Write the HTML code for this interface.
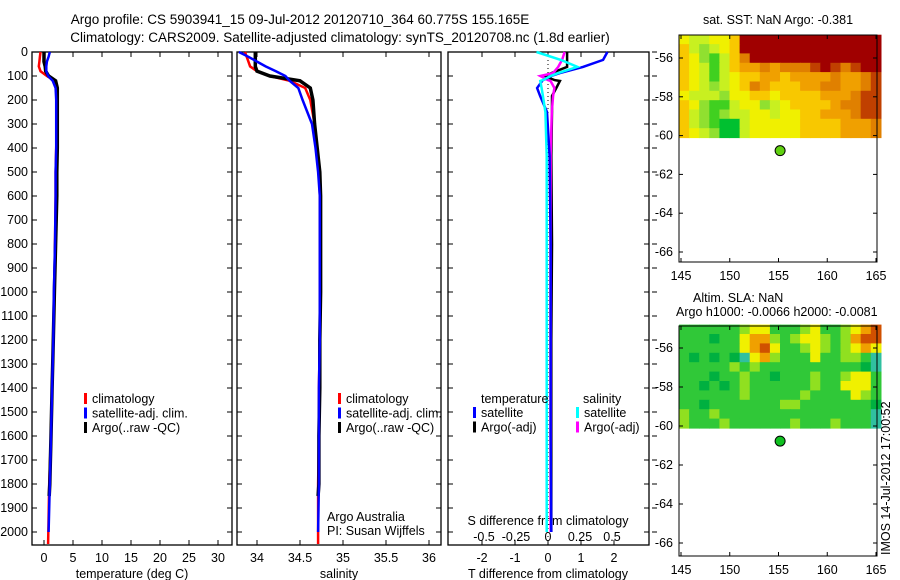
<!DOCTYPE html>
<html><head><meta charset="utf-8"><style>
html,body{margin:0;padding:0;background:#fff;}
svg{display:block;font-family:"Liberation Sans",sans-serif;}
text{font-size:12.5px;fill:#000;}
.ttl{font-size:13.5px;}
</style></head><body>
<svg id="fig" width="900" height="580"></svg>
<script>
// ---------- data ----------
const depths=[0,20,40,60,80,100,120,150,200,300,400,500,600,800,1000,1200,1400,1600,1800,2000];
const tempArgo=[0.0,0.0,0.0,0.2,0.3,0.8,2.0,2.3,2.3,2.3,2.3,2.2,2.2,2.0,1.8,1.6,1.4,1.2,1.0,0.9];
const tempClim=[-0.6,-0.7,-0.8,-0.9,-0.6,0.5,1.8,2.2,2.2,2.2,2.1,2.0,2.0,1.9,1.8,1.6,1.4,1.2,0.9,0.7];
const tempSat=[1.0,0.8,0.5,0.4,0.4,0.7,1.5,2.0,2.1,2.1,2.1,2.0,2.0,1.9,1.7,1.6,1.4,1.2,1.0,0.8];
const salArgo=[33.98,33.98,33.98,33.98,34.0,34.15,34.5,34.62,34.65,34.67,34.7,34.73,34.74,34.74,34.74,34.73,34.73,34.72,34.72,34.71];
const salClim=[33.86,33.88,33.9,33.92,34.0,34.15,34.38,34.56,34.62,34.67,34.7,34.72,34.73,34.73,34.73,34.73,34.72,34.72,34.71,34.71];
const salSat=[33.79,33.9,34.0,34.1,34.22,34.33,34.38,34.48,34.53,34.64,34.68,34.71,34.73,34.73,34.73,34.73,34.72,34.72,34.72,34.71];
const diffDepths=[0,33,62,88,100,117,121,150,183,250,433,800,1200,1600,2000];
const dTSat=[1.8,1.67,1.06,0.36,0.1,-0.15,-0.18,-0.33,-0.24,-0.03,0.05,0.08,0.08,0.08,0.1];
const dTArgo=[0.58,0.58,0.58,0.1,-0.1,0.2,0.36,0.25,0.12,0.12,0.1,0.12,0.1,0.1,0.1];
const dSSat=[-0.09,0.1,0.23,0.08,0.02,-0.04,-0.06,-0.05,-0.04,-0.02,-0.01,-0.01,-0.01,-0.01,-0.01];
const dSArgo=[0.13,0.11,0.08,0.04,-0.06,0.0,0.02,0.05,0.04,0.03,0.02,0.02,0.02,0.02,0.02];
const depthTicks=[0,100,200,300,400,500,600,700,800,900,1000,1100,1200,1300,1400,1500,1600,1700,1800,1900,2000];
const tempTicks=[0,5,10,15,20,25,30];
const salTicks=[34,34.5,35,35.5,36];
const tdTicks=[-2,-1,0,1,2];
const sdTicks=[-0.5,-0.25,0,0.25,0.5];
const lonTicks=[145,150,155,160,165];
const latTicks=[-56,-58,-60,-62,-64,-66];
const floatLon=155.165, floatLat=-60.775;
const sstRows=[
"43344599999999999999","53234599999999999999","54213579999999999999",
"54313566767778987899","54313455665666676678","54323457655566776678",
"43332445545555666788","54211344234555567788","53212334434455666788",
"53210034444455556667","54320034444455556667"];
const slaRows=[
"33333345533345334567","33323356643455434677","33333356753345434565",
"32323215643335334431","33333434333333333321","33323343323334334553",
"33232343333334335553","33333343333343333543","33233333334433333332",
"43343333333333333331","43334333333433343331"];
const sstColors=["#00c030","#40d020","#90e030","#c8f020","#f0f000","#f8c800","#f0a000","#e08000","#c04000","#a00000"];
const slaColors=["#20a0ff","#30c0a0","#00b040","#30c838","#90e020","#f0f000","#f0a000","#d05000"];

// ---------- helpers ----------
const NS="http://www.w3.org/2000/svg";
const svg=document.getElementById('fig');
function el(tag,attrs,parent){const e=document.createElementNS(NS,tag);for(const k in attrs)e.setAttribute(k,attrs[k]);(parent||svg).appendChild(e);return e;}
function txt(x,y,s,anchor,parent){const t=el('text',{x:x,y:y,'text-anchor':anchor||'start'},parent);t.textContent=s;return t;}
const yD=d=>52+d*0.24;
const xT=v=>44+v*5.8;
const xS=v=>257+(v-34)*86;
const xTD=v=>548+v*33;
const xSD=v=>548+v*128;
const xLon=v=>681+(v-145)*9.75;
const yLat1=v=>58+(-56-v)*19.4;
const yLat2=v=>348+(-56-v)*19.5;

function panel(x0,x1,name){
  const r=el('rect',{x:x0,y:52,width:x1-x0,height:493,fill:'none',stroke:'#000','stroke-width':1.3});
  
  
  depthTicks.forEach(d=>{el('line',{x1:x0,x2:x0+5,y1:yD(d),y2:yD(d),stroke:'#000'});el('line',{x1:x1,x2:x1-5,y1:yD(d),y2:yD(d),stroke:'#000'});});
}
function line(xs,ds,xf,color,w,name){
  const p=ds.map((d,i)=>xf(xs[i]).toFixed(1)+','+yD(d).toFixed(1)).join(' ');
  const l=el('polyline',{points:p,fill:'none',stroke:color,'stroke-width':w});
  
  
}
function xticks(vals,f){
  vals.forEach(v=>{const x=f(v);el('line',{x1:x,x2:x,y1:545,y2:540,stroke:'#000'});el('line',{x1:x,x2:x,y1:52,y2:57,stroke:'#000'});txt(x,562,String(v),'middle');});
}
function legend(x,y,items){
  items.forEach((it,i)=>{el('rect',{x:x,y:y+i*14.5-10,width:3,height:11,fill:it[0]});txt(x+8,y+i*14.5,it[1]);});
}

// ---------- titles ----------
const t1=txt(300,24,'Argo profile: CS 5903941_15 09-Jul-2012 20120710_364 60.775S 155.165E','middle');
t1.setAttribute('class','ttl');

const t2=txt(340,42,'Climatology: CARS2009. Satellite-adjusted climatology: synTS_20120708.nc (1.8d earlier)','middle');
t2.setAttribute('class','ttl');


// ---------- panel 1 temperature ----------
panel(32,232,'temperature-panel');
depthTicks.forEach(d=>txt(28,yD(d)+4,String(d),'end'));
xticks(tempTicks,xT);
txt(132,578,'temperature (deg C)','middle');
line(tempClim,depths.map((d,i)=>i==depths.length-1?2050:d),xT,'#ff0000',2.5,'temp-climatology-line');
line(tempArgo,depths.map((d,i)=>i==depths.length-1?1850:d),xT,'#000',3.5,'temp-argo-line');
line(tempSat,depths,xT,'#0000ff',2.5,'temp-satellite-line');
legend(84,403,[['#ff0000','climatology'],['#0000ff','satellite-adj. clim.'],['#000','Argo(..raw -QC)']]);

// ---------- panel 2 salinity ----------
panel(237,441,'salinity-panel');
xticks(salTicks,xS);
txt(339,578,'salinity','middle');
line(salClim,depths.map((d,i)=>i==depths.length-1?2050:d),xS,'#ff0000',2.5,'sal-climatology-line');
line(salArgo,depths.map((d,i)=>i==depths.length-1?1850:d),xS,'#000',3.5,'sal-argo-line');
line(salSat,depths,xS,'#0000ff',2.5,'sal-satellite-line');
legend(338,403,[['#ff0000','climatology'],['#0000ff','satellite-adj. clim.'],['#000','Argo(..raw -QC)']]);
txt(327,521,'Argo Australia');txt(327,535,'PI: Susan Wijffels');

// ---------- panel 3 differences ----------
panel(448,649,'difference-panel');
depthTicks.forEach(d=>el('line',{x1:652,x2:657,y1:yD(d),y2:yD(d),stroke:'#000'}));
el('line',{x1:548,x2:548,y1:52,y2:545,stroke:'#000','stroke-dasharray':'1,3'});
xticks(tdTicks,xTD);
txt(548,578,'T difference from climatology','middle');
txt(548,525,'S difference from climatology','middle');
sdTicks.forEach(v=>txt(xSD(v),541,String(v),'middle'));
line(dTArgo,diffDepths,xTD,'#000',2.5,'tdiff-argo-line');
line(dSArgo,diffDepths,xSD,'#ff00ff',2.5,'sdiff-argo-line');
line(dTSat,diffDepths,xTD,'#0000ff',2.5,'tdiff-satellite-line');
line(dSSat,diffDepths,xSD,'#00ffff',2.5,'sdiff-satellite-line');
txt(481,403,'temperature');txt(583,403,'salinity');
legend(473,417,[['#0000ff','satellite'],['#000','Argo(-adj)']]);
legend(576,417,[['#00ffff','satellite'],['#ff00ff','Argo(-adj)']]);

// ---------- maps ----------
function map(yTop,yBot,yLat,rows,colors,name){
  const g=el('g',{});
  
  
  const lon0=144.8,lon1=165.5,lat0=-54.8,lat1=-60.1;
  const nr=rows.length,nc=rows[0].length;
  rows.forEach((row,r)=>{row.split('').forEach((c,k)=>{
    const xa=xLon(lon0+(lon1-lon0)*k/nc),xb=xLon(lon0+(lon1-lon0)*(k+1)/nc);
    const ya=yLat(lat0+(lat1-lat0)*r/nr),yb=yLat(lat0+(lat1-lat0)*(r+1)/nr);
    el('rect',{x:xa.toFixed(1),y:ya.toFixed(1),width:(xb-xa+0.6).toFixed(1),height:(yb-ya+0.6).toFixed(1),fill:colors[+c]},g);
  });});
  el('rect',{x:679,y:yTop,width:198,height:yBot-yTop,fill:'none',stroke:'#000'},g);
  lonTicks.forEach(v=>{const x=xLon(v);el('line',{x1:x,x2:x,y1:yBot,y2:yBot-4,stroke:'#000'},g);el('line',{x1:x,x2:x,y1:yTop,y2:yTop+4,stroke:'#000'},g);txt(x,yBot+18,String(v),'middle',g);});
  latTicks.forEach(v=>{const y=yLat(v);el('line',{x1:679,x2:683,y1:y,y2:y,stroke:'#000'},g);el('line',{x1:877,x2:873,y1:y,y2:y,stroke:'#000'},g);txt(673,y+4,String(v),'end',g);});
  const c=el('circle',{cx:xLon(floatLon),cy:yLat(floatLat),r:5,fill:colors===sstColors?'#60d010':'#10c020',stroke:'#000'},g);
  
  
}
map(35,262,yLat1,sstRows,sstColors,'sst-map');
map(326,556,yLat2,slaRows,slaColors,'sla-map');
txt(778,24,'sat. SST: NaN Argo: -0.381','middle');
txt(693,302,'Altim. SLA: NaN');
txt(676,316,'Argo h1000: -0.0066 h2000: -0.0081');
const st=txt(0,0,'IMOS 14-Jul-2012 17:00:52','start');
st.setAttribute('transform','translate(890,555) rotate(-90)');


</script>
</body></html>
